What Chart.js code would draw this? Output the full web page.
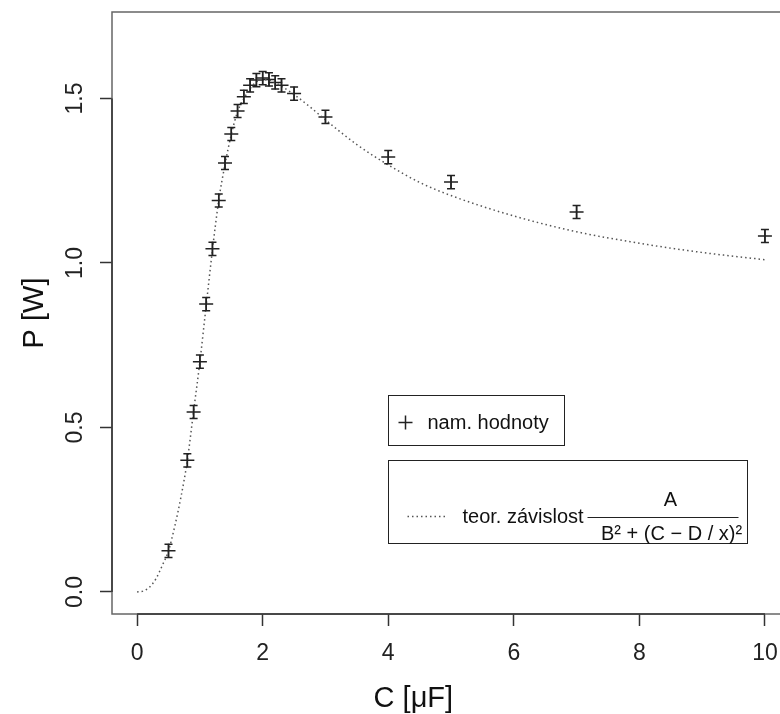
<!DOCTYPE html>
<html>
<head>
<meta charset="utf-8">
<script src="https://cdn.jsdelivr.net/npm/chart.js@4.4.1/dist/chart.umd.min.js"></script>
<style>
  html, body { margin: 0; padding: 0; background: #fff; overflow: hidden; }
  #wrap { width: 780px; height: 714px; }
</style>
</head>
<body>
<div id="wrap"><canvas id="myChart" width="780" height="714"></canvas></div>
<script>
// measured points (C in uF, P in W) with error bars
var capacitance = [0.5, 0.8, 0.9, 1.0, 1.1, 1.2, 1.3, 1.4, 1.5, 1.6, 1.7, 1.8, 1.9, 2.0, 2.1, 2.2, 2.3, 2.5, 3, 4, 5, 7, 10];
var power = [0.125, 0.40, 0.547, 0.70, 0.875, 1.043, 1.19, 1.304, 1.392, 1.462, 1.505, 1.54, 1.556, 1.562, 1.558, 1.549, 1.54, 1.515, 1.444, 1.322, 1.246, 1.155, 1.082];
var powerErr = [0.02, 0.02, 0.02, 0.02, 0.02, 0.02, 0.02, 0.02, 0.02, 0.02, 0.02, 0.02, 0.02, 0.02, 0.02, 0.02, 0.02, 0.02, 0.02, 0.02, 0.02, 0.02, 0.02];

// theoretical curve
var curveC = [0, 0.1, 0.2, 0.3, 0.4, 0.5, 0.6, 0.7, 0.8, 0.9, 1.0, 1.1, 1.2, 1.3, 1.4, 1.5, 1.6, 1.7, 1.8, 1.9, 2.0, 2.1, 2.2, 2.3, 2.5, 2.75, 3, 3.5, 4, 4.5, 5, 6, 7, 8, 9, 10];
var curveP = [0, 0.003, 0.015, 0.04, 0.08, 0.125, 0.2, 0.29, 0.40, 0.55, 0.70, 0.87, 1.04, 1.19, 1.30, 1.39, 1.46, 1.50, 1.53, 1.55, 1.557, 1.556, 1.548, 1.537, 1.512, 1.475, 1.435, 1.36, 1.298, 1.245, 1.205, 1.143, 1.095, 1.06, 1.032, 1.01];

var xTicks = [0, 2, 4, 6, 8, 10];
var xTickLabels = ['0', '2', '4', '6', '8', '10'];
var yTicks = [0, 0.5, 1.0, 1.5];
var yTickLabels = ['0.0', '0.5', '1.0', '1.5'];

var FONT = "'Liberation Sans', Arial, sans-serif";
Chart.defaults.font.family = FONT;

// box around the plot region (R style), axis lines over it, x label
var frame = {
  id: 'frame',
  afterDraw: function(chart) {
    var ctx = chart.ctx, a = chart.chartArea;
    var x = chart.scales.x, y = chart.scales.y;
    ctx.save();
    ctx.strokeStyle = '#666';
    ctx.lineWidth = 1.5;
    ctx.strokeRect(a.left, a.top, a.right - a.left + 20, a.bottom - a.top);
    ctx.strokeStyle = '#333';
    ctx.beginPath();
    ctx.moveTo(x.getPixelForValue(xTicks[0]), a.bottom);
    ctx.lineTo(x.getPixelForValue(xTicks[xTicks.length - 1]), a.bottom);
    ctx.moveTo(a.left, y.getPixelForValue(yTicks[0]));
    ctx.lineTo(a.left, y.getPixelForValue(yTicks[yTicks.length - 1]));
    ctx.stroke();
    ctx.fillStyle = '#111';
    ctx.font = '29px ' + FONT;
    ctx.textAlign = 'center';
    ctx.textBaseline = 'alphabetic';
    ctx.fillText('C [μF]', x.getPixelForValue(4.4), 707);
    ctx.restore();
  }
};

var errorBars = {
  id: 'errorBars',
  afterDatasetsDraw: function(chart) {
    var ctx = chart.ctx, x = chart.scales.x, y = chart.scales.y;
    ctx.save();
    ctx.strokeStyle = '#222';
    ctx.lineWidth = 1.5;
    capacitance.forEach(function(c, i) {
      var px = x.getPixelForValue(c);
      var top = y.getPixelForValue(power[i] + powerErr[i]);
      var bot = y.getPixelForValue(power[i] - powerErr[i]);
      ctx.beginPath();
      ctx.moveTo(px, top); ctx.lineTo(px, bot);
      ctx.moveTo(px - 4, top); ctx.lineTo(px + 4, top);
      ctx.moveTo(px - 4, bot); ctx.lineTo(px + 4, bot);
      ctx.stroke();
    });
    ctx.restore();
  }
};

// the two legend boxes, anchored at (4, 0.6) and (4, 0.4)
var legendBoxes = {
  id: 'legendBoxes',
  afterDraw: function(chart) {
    var ctx = chart.ctx, x = chart.scales.x, y = chart.scales.y;
    var x0 = Math.round(x.getPixelForValue(4)) + 0.5;
    var y1 = Math.round(y.getPixelForValue(0.6)) + 0.5;
    var y2 = Math.round(y.getPixelForValue(0.4)) + 0.5;
    ctx.save();
    ctx.strokeStyle = '#222';
    ctx.lineWidth = 1;
    ctx.fillStyle = '#fff';
    ctx.fillRect(x0, y1, 176, 50);
    ctx.strokeRect(x0, y1, 176, 50);
    ctx.fillRect(x0, y2, 359, 83);
    ctx.strokeRect(x0, y2, 359, 83);

    // + nam. hodnoty
    ctx.lineWidth = 1.5;
    ctx.beginPath();
    ctx.moveTo(x0 + 10, y1 + 27); ctx.lineTo(x0 + 24, y1 + 27);
    ctx.moveTo(x0 + 17, y1 + 20); ctx.lineTo(x0 + 17, y1 + 34);
    ctx.stroke();
    ctx.fillStyle = '#111';
    ctx.font = '20px ' + FONT;
    ctx.textBaseline = 'alphabetic';
    ctx.textAlign = 'left';
    ctx.fillText('nam. hodnoty', x0 + 39, y1 + 33);

    // dotted sample + teor. závislost A / (B² + (C - D/x)²)
    ctx.strokeStyle = '#555';
    ctx.setLineDash([1.5, 3]);
    ctx.beginPath();
    ctx.moveTo(x0 + 19, y2 + 56); ctx.lineTo(x0 + 57, y2 + 56);
    ctx.stroke();
    ctx.setLineDash([]);
    ctx.fillText('teor. závislost', x0 + 74, y2 + 62);
    ctx.strokeStyle = '#222';
    ctx.lineWidth = 1.2;
    ctx.beginPath();
    ctx.moveTo(x0 + 199, y2 + 57); ctx.lineTo(x0 + 350, y2 + 57);
    ctx.stroke();
    ctx.textAlign = 'center';
    ctx.fillText('A', x0 + 282, y2 + 45);
    ctx.fillText('B\u00b2 + (C \u2212 D / x)\u00b2', x0 + 283, y2 + 79);
    ctx.restore();
  }
};

var ctx = document.getElementById('myChart').getContext('2d');
var myChart = new Chart(ctx, {
  type: 'scatter',
  data: {
    datasets: [{
      label: 'teor. závislost',
      type: 'line',
      data: curveC.map(function(c, i) { return { x: c, y: curveP[i] }; }),
      borderColor: '#555',
      borderWidth: 1.5,
      borderDash: [1.5, 3],
      pointRadius: 0,
      fill: false,
      cubicInterpolationMode: 'monotone'
    }, {
      label: 'nam. hodnoty',
      data: capacitance.map(function(c, i) { return { x: c, y: power[i] }; }),
      pointStyle: 'cross',
      pointRadius: 7,
      borderColor: '#222',
      backgroundColor: '#222',
      borderWidth: 1.5
    }]
  },
  options: {
    responsive: false,
    animation: false,
    layout: { autoPadding: false, padding: { top: 12, right: 0, bottom: 0, left: 0 } },
    plugins: {
      legend: { display: false },
      tooltip: { enabled: false }
    },
    scales: {
      x: {
        type: 'linear',
        min: -0.4,
        max: 10.24,
        afterBuildTicks: function(s) { s.ticks = xTicks.map(function(v) { return { value: v }; }); },
        afterFit: function(s) { s.height = 100; s.paddingLeft = 0; s.paddingRight = 0; },
        grid: { drawOnChartArea: false, drawTicks: true, tickLength: 12, tickColor: '#333', tickWidth: 1.5 },
        border: { display: false },
        ticks: {
          font: { size: 23 },
          color: '#222',
          padding: 14,
          maxRotation: 0,
          callback: function(v, i) { return xTickLabels[i]; }
        },
        title: { display: false }
      },
      y: {
        type: 'linear',
        min: -0.067,
        max: 1.763,
        afterBuildTicks: function(s) { s.ticks = yTicks.map(function(v) { return { value: v }; }); },
        afterFit: function(s) { s.width = 112; s.paddingTop = 0; s.paddingBottom = 0; },
        grid: { drawOnChartArea: false, drawTicks: true, tickLength: 12, tickColor: '#333', tickWidth: 1.5 },
        border: { display: false },
        ticks: {
          font: { size: 23 },
          color: '#222',
          padding: 8,
          minRotation: 90,
          maxRotation: 90,
          crossAlign: 'center',
          callback: function(v, i) { return yTickLabels[i]; }
        },
        title: { display: true, text: 'P [W]', font: { size: 29 }, color: '#111', padding: { top: 18, bottom: 0 } }
      }
    }
  },
  plugins: [frame, errorBars, legendBoxes]
});
</script>
</body>
</html>
